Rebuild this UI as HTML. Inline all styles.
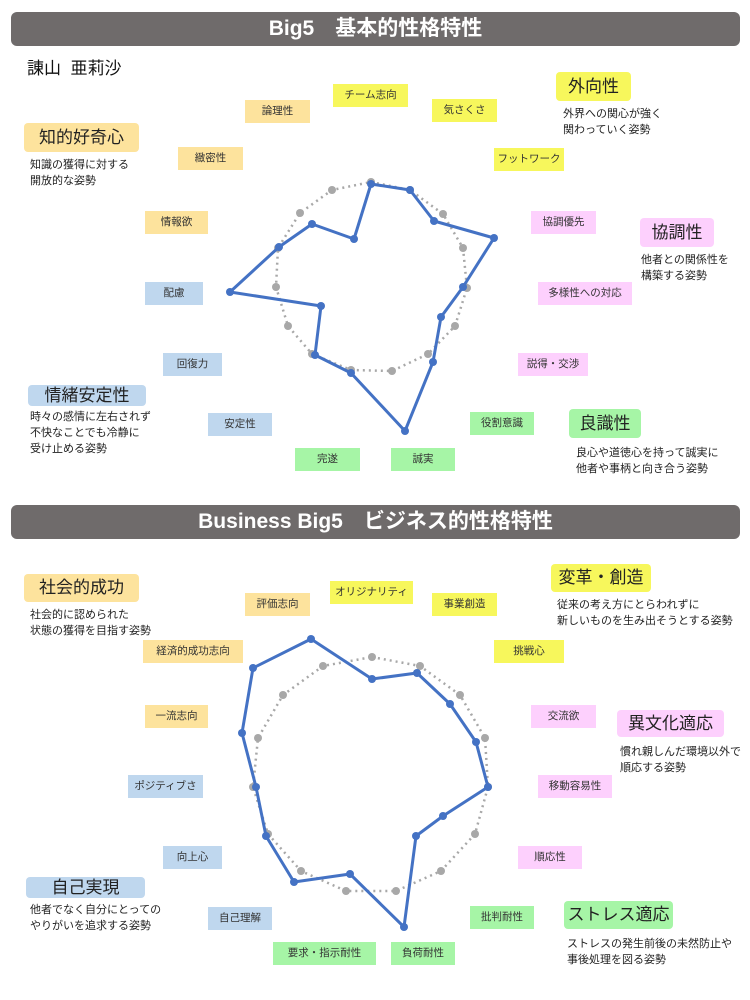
<!DOCTYPE html>
<html><head><meta charset="utf-8"><style>
body{margin:0;width:750px;height:1000px;background:#fff;position:relative;font-family:"Liberation Sans","Noto Sans CJK JP",sans-serif;overflow:hidden}
.hd{position:absolute;left:11px;width:729px;height:34px;background:#6f6b6b;border-radius:6px;color:#fff;font-weight:bold;font-size:21px;text-align:center;line-height:34px}
.b{position:absolute;height:23px;line-height:23px;font-size:10.5px;text-align:center;color:#333}
.c{position:absolute;font-size:17px;text-align:center;color:#222;border-radius:4px}
.d{position:absolute;font-size:11px;line-height:16px;color:#222;white-space:nowrap}
.y{background:#f7f75c}.o{background:#fde39d}.p{background:#fdd0fd}.u{background:#bfd7ee}.g{background:#a6f5a6}
svg{position:absolute;left:0;top:0}
</style></head><body>
<div class="hd" style="top:12px">Big5　基本的性格特性</div>
<div style="position:absolute;left:27px;top:54px;font-size:17px;color:#111">諌山&nbsp; 亜莉沙</div>

<div class="b y" style="left:333px;top:84px;width:75px">チーム志向</div>
<div class="b o" style="left:245px;top:100px;width:65px">論理性</div>
<div class="b y" style="left:432px;top:99px;width:65px">気さくさ</div>
<div class="b y" style="left:494px;top:148px;width:70px">フットワーク</div>
<div class="b o" style="left:178px;top:147px;width:65px">緻密性</div>
<div class="b o" style="left:145px;top:211px;width:63px">情報欲</div>
<div class="b p" style="left:531px;top:211px;width:65px">協調優先</div>
<div class="b u" style="left:145px;top:282px;width:58px">配慮</div>
<div class="b p" style="left:538px;top:282px;width:94px">多様性への対応</div>
<div class="b u" style="left:163px;top:353px;width:59px">回復力</div>
<div class="b p" style="left:518px;top:353px;width:70px">説得・交渉</div>
<div class="b u" style="left:208px;top:413px;width:64px">安定性</div>
<div class="b g" style="left:470px;top:412px;width:64px">役割意識</div>
<div class="b g" style="left:295px;top:448px;width:65px">完遂</div>
<div class="b g" style="left:391px;top:448px;width:64px">誠実</div>

<div class="c y" style="left:556px;top:72px;width:75px;height:29px;line-height:29px">外向性</div>
<div class="d" style="left:563px;top:106px">外界への関心が強く<br>関わっていく姿勢</div>
<div class="c o" style="left:24px;top:123px;width:115px;height:29px;line-height:29px">知的好奇心</div>
<div class="d" style="left:30px;top:157px">知識の獲得に対する<br>開放的な姿勢</div>
<div class="c p" style="left:640px;top:218px;width:74px;height:29px;line-height:29px">協調性</div>
<div class="d" style="left:641px;top:252px">他者との関係性を<br>構築する姿勢</div>
<div class="c u" style="left:28px;top:385px;width:118px;height:21px;line-height:21px">情緒安定性</div>
<div class="d" style="left:30px;top:409px">時々の感情に左右されず<br>不快なことでも冷静に<br>受け止める姿勢</div>
<div class="c g" style="left:569px;top:409px;width:72px;height:29px;line-height:29px">良識性</div>
<div class="d" style="left:576px;top:445px">良心や道徳心を持って誠実に<br>他者や事柄と向き合う姿勢</div>

<div class="hd" style="top:505px">Business Big5　ビジネス的性格特性</div>

<div class="b y" style="left:330px;top:581px;width:83px">オリジナリティ</div>
<div class="b o" style="left:245px;top:593px;width:65px">評価志向</div>
<div class="b y" style="left:432px;top:593px;width:65px">事業創造</div>
<div class="b y" style="left:494px;top:640px;width:70px">挑戦心</div>
<div class="b o" style="left:143px;top:640px;width:100px">経済的成功志向</div>
<div class="b o" style="left:145px;top:705px;width:63px">一流志向</div>
<div class="b p" style="left:531px;top:705px;width:65px">交流欲</div>
<div class="b u" style="left:128px;top:775px;width:75px">ポジティブさ</div>
<div class="b p" style="left:538px;top:775px;width:74px">移動容易性</div>
<div class="b u" style="left:163px;top:846px;width:59px">向上心</div>
<div class="b p" style="left:518px;top:846px;width:64px">順応性</div>
<div class="b u" style="left:208px;top:907px;width:64px">自己理解</div>
<div class="b g" style="left:470px;top:906px;width:64px">批判耐性</div>
<div class="b g" style="left:273px;top:942px;width:103px">要求・指示耐性</div>
<div class="b g" style="left:391px;top:942px;width:64px">負荷耐性</div>

<div class="c o" style="left:24px;top:574px;width:115px;height:28px;line-height:28px">社会的成功</div>
<div class="d" style="left:30px;top:607px">社会的に認められた<br>状態の獲得を目指す姿勢</div>
<div class="c y" style="left:551px;top:564px;width:100px;height:28px;line-height:28px">変革・創造</div>
<div class="d" style="left:557px;top:597px">従来の考え方にとらわれずに<br>新しいものを生み出そうとする姿勢</div>
<div class="c p" style="left:617px;top:710px;width:107px;height:27px;line-height:27px">異文化適応</div>
<div class="d" style="left:620px;top:744px">慣れ親しんだ環境以外で<br>順応する姿勢</div>
<div class="c u" style="left:26px;top:877px;width:119px;height:21px;line-height:21px">自己実現</div>
<div class="d" style="left:30px;top:902px">他者でなく自分にとっての<br>やりがいを追求する姿勢</div>
<div class="c g" style="left:564px;top:901px;width:109px;height:28px;line-height:28px">ストレス適応</div>
<div class="d" style="left:567px;top:936px">ストレスの発生前後の未然防止や<br>事後処理を図る姿勢</div>

<svg width="750" height="1000">
<g fill="none" stroke="#a8a8a8" stroke-width="2.5" stroke-dasharray="2 4">
<polygon points="371,182 410,190 443,214 463,248 467,288 455,326 428,354 392,371 351,370 312,354 288,326 276,287 278,248 300,213 332,190"/>
<polygon points="372,657 420,666 460,695 485,738 488,787 475,834 441,871 396,891 346,891 301,871 268,834 253,787 258,738 283,695 323,666"/>
</g>
<g fill="#a8a8a8">
<circle cx="371" cy="182" r="4"/><circle cx="410" cy="190" r="4"/><circle cx="443" cy="214" r="4"/><circle cx="463" cy="248" r="4"/><circle cx="467" cy="288" r="4"/><circle cx="455" cy="326" r="4"/><circle cx="428" cy="354" r="4"/><circle cx="392" cy="371" r="4"/><circle cx="351" cy="370" r="4"/><circle cx="312" cy="354" r="4"/><circle cx="288" cy="326" r="4"/><circle cx="276" cy="287" r="4"/><circle cx="278" cy="248" r="4"/><circle cx="300" cy="213" r="4"/><circle cx="332" cy="190" r="4"/>
<circle cx="372" cy="657" r="4"/><circle cx="420" cy="666" r="4"/><circle cx="460" cy="695" r="4"/><circle cx="485" cy="738" r="4"/><circle cx="488" cy="787" r="4"/><circle cx="475" cy="834" r="4"/><circle cx="441" cy="871" r="4"/><circle cx="396" cy="891" r="4"/><circle cx="346" cy="891" r="4"/><circle cx="301" cy="871" r="4"/><circle cx="268" cy="834" r="4"/><circle cx="253" cy="787" r="4"/><circle cx="258" cy="738" r="4"/><circle cx="283" cy="695" r="4"/><circle cx="323" cy="666" r="4"/>
</g>
<g fill="none" stroke="#4472c4" stroke-width="3" stroke-linejoin="round">
<polygon points="371,184 410,190 434,221 494,238 463,287 441,317 433,362 405,431 351,373 315,355 321,306 230,292 279,247 312,224 354,239"/>
<polygon points="372,679 417,673 450,704 476,742 488,787 443,816 416,836 404,927 350,874 294,882 266,836 256,787 242,733 253,668 311,639"/>
</g>
<g fill="#4472c4">
<circle cx="371" cy="184" r="4"/><circle cx="410" cy="190" r="4"/><circle cx="434" cy="221" r="4"/><circle cx="494" cy="238" r="4"/><circle cx="463" cy="287" r="4"/><circle cx="441" cy="317" r="4"/><circle cx="433" cy="362" r="4"/><circle cx="405" cy="431" r="4"/><circle cx="351" cy="373" r="4"/><circle cx="315" cy="355" r="4"/><circle cx="321" cy="306" r="4"/><circle cx="230" cy="292" r="4"/><circle cx="279" cy="247" r="4"/><circle cx="312" cy="224" r="4"/><circle cx="354" cy="239" r="4"/>
<circle cx="372" cy="679" r="4"/><circle cx="417" cy="673" r="4"/><circle cx="450" cy="704" r="4"/><circle cx="476" cy="742" r="4"/><circle cx="488" cy="787" r="4"/><circle cx="443" cy="816" r="4"/><circle cx="416" cy="836" r="4"/><circle cx="404" cy="927" r="4"/><circle cx="350" cy="874" r="4"/><circle cx="294" cy="882" r="4"/><circle cx="266" cy="836" r="4"/><circle cx="256" cy="787" r="4"/><circle cx="242" cy="733" r="4"/><circle cx="253" cy="668" r="4"/><circle cx="311" cy="639" r="4"/>
</g>
</svg>
</body></html>
